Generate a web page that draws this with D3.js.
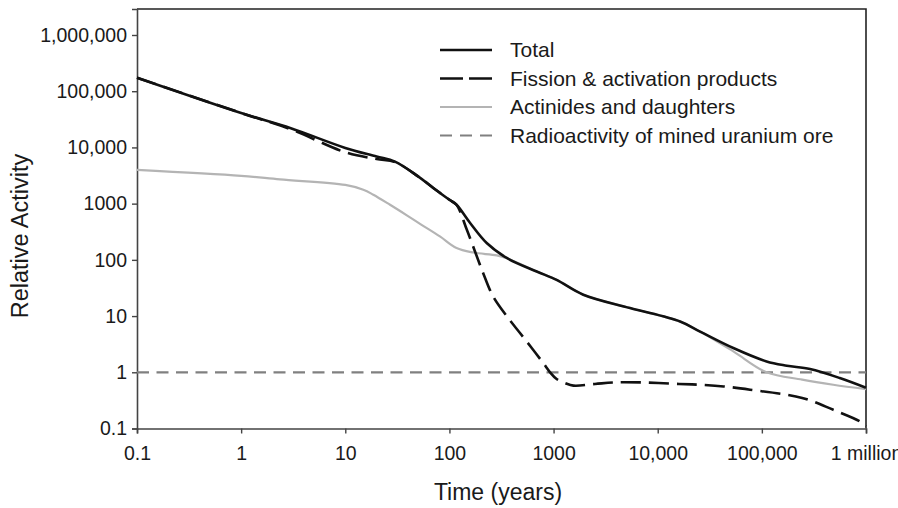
<!DOCTYPE html>
<html>
<head>
<meta charset="utf-8">
<script src="https://cdnjs.cloudflare.com/ajax/libs/d3/7.8.5/d3.min.js"></script>
<style>
	body { margin: 0; background: #fff; }
	svg text { font-family: "Liberation Sans", Arial, sans-serif; fill: #1a1a1a; }
</style>
</head>
<body>
<script>
// Data (time in years, relative activity)
var totalT = [0.1, 1, 3, 10, 20, 30, 50, 70, 100, 117, 158, 228, 355, 689, 1070, 1930, 5420, 16400, 25500, 53200, 111000, 174000, 290000, 560000, 1000000];
var totalV = [174000, 41000, 22000, 9800, 6900, 5600, 3050, 1900, 1170, 955, 452, 199, 108, 62, 44, 24, 13.9, 8.0, 5.3, 2.7, 1.56, 1.31, 1.14, 0.79, 0.53];

var fissionT = [0.1, 1, 3, 10, 20, 30, 50, 70, 100, 117, 147, 211, 264, 367, 476, 617, 795, 925, 1070, 1300, 1550, 2500, 3750, 7000, 16000, 25500, 43000, 77000, 244000, 485000, 880000, 1000000];
var fissionV = [174000, 41000, 21000, 8200, 6200, 5500, 3050, 1900, 1170, 955, 343, 58, 22, 9.2, 5.0, 2.7, 1.46, 1.0, 0.76, 0.64, 0.58, 0.62, 0.66, 0.66, 0.62, 0.6, 0.56, 0.49, 0.35, 0.215, 0.133, 0.11];

var actT = [0.1, 1, 2.36, 10, 14.9, 18.6, 26.9, 39, 54, 81, 117, 170, 285, 355, 689, 1070, 1930, 5420, 16400, 25500, 53200, 111000, 244000, 485000, 1000000];
var actV = [4000, 3130, 2700, 2150, 1770, 1440, 955, 620, 420, 261, 162, 135, 120, 107, 62, 44, 24, 13.9, 8.0, 5.3, 2.35, 1.0, 0.74, 0.6, 0.5];

var oreLevel = 1;

var xTicks = [0.1, 1, 10, 100, 1000, 10000, 100000, 1000000];
var xTickLabels = ["0.1", "1", "10", "100", "1000", "10,000", "100,000", "1 million"];
var yTicks = [0.1, 1, 10, 100, 1000, 10000, 100000, 1000000];
var yTickLabels = ["0.1", "1", "10", "100", "1000", "10,000", "100,000", "1,000,000"];

var legendNames = ["Total", "Fission & activation products", "Actinides and daughters", "Radioactivity of mined uranium ore"];

// Canvas and plot box
var w = 898, h = 508;
var plotLeft = 137, plotRight = 866, plotTop = 9, plotBottom = 428.5;

var svg = d3.select("body").
append("svg").
attr("width", w).
attr("height", h);

var xScale = d3.scaleLog().
domain([0.1, 1e6]).
range([plotLeft, plotRight]);

var yScale = d3.scaleLog().
domain([0.1, 2.9e6]).
range([plotBottom, plotTop]);

var line = d3.line().
x(function (d) {return xScale(d[0]);}).
y(function (d) {return yScale(d[1]);}).
curve(d3.curveCatmullRom.alpha(0.5));

function pairs(t, v) {
	return t.map(function (d, i) {return [d, v[i]];});
}

// Frame (top and right)
svg.append("path").
attr("d", "M" + plotLeft + "," + plotTop + "H" + plotRight + "V" + plotBottom).
attr("fill", "none").
attr("stroke", "#222").
attr("stroke-width", 1.6);

// Axes
var xAxis = d3.axisBottom(xScale).
tickValues(xTicks).
tickSize(5).
tickPadding(13).
tickFormat(function (d, i) {return xTickLabels[i];});

var yAxis = d3.axisLeft(yScale).
tickValues(yTicks).
tickSize(5).
tickPadding(5).
tickFormat(function (d, i) {return yTickLabels[i];});

var gx = svg.append("g").
attr("transform", "translate(0," + plotBottom + ")").
call(xAxis);

var gy = svg.append("g").
attr("transform", "translate(" + plotLeft + ",0)").
call(yAxis);

[gx, gy].forEach(function (g) {
	g.select(".domain").attr("stroke", "#444").attr("stroke-width", 1.6);
	g.selectAll(".tick line").attr("stroke", "#444").attr("stroke-width", 1.4);
	g.selectAll(".tick text").
	style("font-size", "19.5px").
	style("font-family", "Liberation Sans, Arial, sans-serif").
	attr("fill", "#1a1a1a");
});

// Axis titles
svg.append("text").
attr("x", 498).
attr("y", 500).
attr("text-anchor", "middle").
style("font-size", "23px").
text("Time (years)");

svg.append("text").
attr("transform", "translate(28,236) rotate(-90)").
attr("text-anchor", "middle").
style("font-size", "23.5px").
text("Relative Activity");

// Series
svg.append("line").
attr("x1", xScale(0.1)).
attr("x2", xScale(1e6)).
attr("y1", yScale(oreLevel)).
attr("y2", yScale(oreLevel)).
attr("stroke", "#808080").
attr("stroke-width", 2.2).
attr("stroke-dasharray", "12,7.5");

svg.append("path").
datum(pairs(actT, actV)).
attr("d", line).
attr("fill", "none").
attr("stroke", "#b4b4b4").
attr("stroke-width", 2.2);

svg.append("path").
datum(pairs(fissionT, fissionV)).
attr("d", line).
attr("fill", "none").
attr("stroke", "#111").
attr("stroke-width", 2.6).
attr("stroke-dasharray", "20,8");

svg.append("path").
datum(pairs(totalT, totalV)).
attr("d", line).
attr("fill", "none").
attr("stroke", "#111").
attr("stroke-width", 2.6);

// Legend
var legendStyles = [
	{stroke: "#111", width: 2.6, dash: null},
	{stroke: "#111", width: 2.6, dash: "23,6"},
	{stroke: "#b4b4b4", width: 2.2, dash: null},
	{stroke: "#808080", width: 2.2, dash: "12,8"}
];

var legend = svg.selectAll(".legend").
data(legendNames).
enter().append("g").
attr("class", "legend").
attr("transform", function (d, i) {return "translate(0," + (57 + i * 28.5) + ")";});

legend.append("line").
attr("x1", 440).
attr("x2", 492).
attr("y1", -7).
attr("y2", -7).
attr("stroke", function (d, i) {return legendStyles[i].stroke;}).
attr("stroke-width", function (d, i) {return legendStyles[i].width;}).
attr("stroke-dasharray", function (d, i) {return legendStyles[i].dash;});

legend.append("text").
attr("x", 510).
attr("y", 0).
style("font-size", "21px").
text(function (d) {return d;});
</script>
</body>
</html>
